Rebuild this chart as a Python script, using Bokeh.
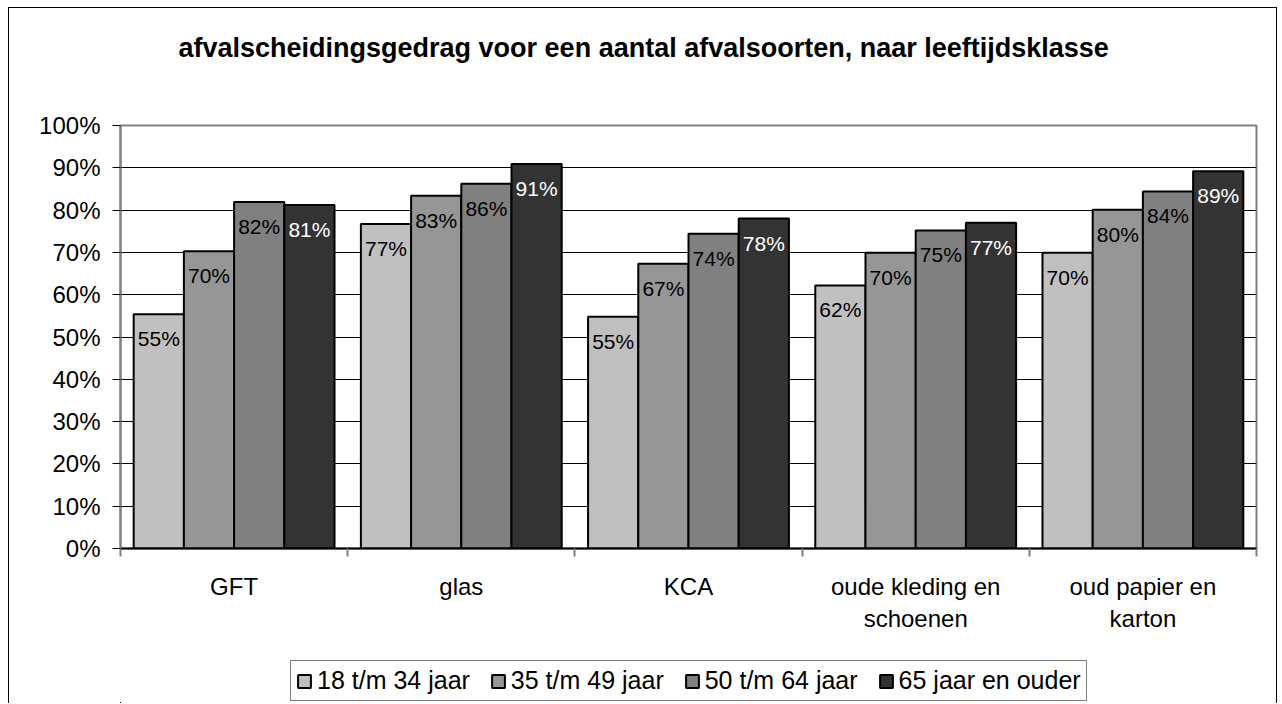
from bokeh.plotting import figure
from bokeh.layouts import column
from bokeh.models import (ColumnDataSource, FixedTicker, NumeralTickFormatter,
                          Legend, LegendItem, Range1d, Title)
from bokeh.transform import dodge
from bokeh.core.properties import value
from bokeh.embed import file_html
from bokeh.resources import INLINE

# ---- data ----
categories = ["GFT", "glas", "KCA", "oude kleding en schoenen", "oud papier en karton"]
category_labels = ["GFT", "glas", "KCA", "oude kleding en\nschoenen", "oud papier en\nkarton"]
series = ["18 t/m 34 jaar", "35 t/m 49 jaar", "50 t/m 64 jaar", "65 jaar en ouder"]
v_18_34 = [55.4, 76.7, 54.8, 62.2, 69.9]
v_35_49 = [70.3, 83.4, 67.3, 69.9, 80.1]
v_50_64 = [81.9, 86.2, 74.4, 75.2, 84.4]
v_65_plus = [81.2, 90.9, 78.0, 77.0, 89.2]
y_ticks = [0, 10, 20, 30, 40, 50, 60, 70, 80, 90, 100]
title_text = "afvalscheidingsgedrag voor een aantal afvalsoorten, naar leeftijdsklasse"

# ---- styles ----
colors = ["#C0C0C0", "#969696", "#808080", "#333333"]
label_colors = ["black", "black", "black", "white"]
FONT = "Liberation Sans"
bar_w = 0.221

p = figure(width=1267, height=644, title=None, x_range=Range1d(0, len(categories)),
           y_range=Range1d(0, 1), output_backend="svg", toolbar_location=None,
           min_border_left=111, min_border_right=20, min_border_top=117,
           min_border_bottom=104)
p.background_fill_color = "white"
p.border_fill_color = "white"
p.outline_line_color = "#808080"
p.outline_line_width = 2

# titles: spacer next to the frame, real title above it
spacer_top = Title(text=" ", text_font=FONT, text_font_size="24px", standoff=11)
p.add_layout(spacer_top, "above")
main_title = Title(text=title_text, align="left", offset=58, standoff=45,
                   text_font=FONT, text_font_size="27px", text_font_style="bold",
                   text_color="black")
p.add_layout(main_title, "above")

# y axis
p.yaxis.ticker = FixedTicker(ticks=[t / 100 for t in y_ticks])
p.yaxis.formatter = NumeralTickFormatter(format="0%")
p.yaxis.major_label_text_font = FONT
p.yaxis.major_label_text_font_size = "24px"
p.yaxis.major_label_text_color = "black"
p.yaxis.axis_line_color = "#808080"
p.yaxis.axis_line_width = 2
p.yaxis.major_tick_line_color = "black"
p.yaxis.major_tick_out = 8
p.yaxis.major_tick_in = 0
p.yaxis.minor_tick_line_color = None
p.yaxis.major_label_standoff = 12

# x axis (labels at category centres, ticks between categories)
centers = [i + 0.5 for i in range(len(categories))]
p.xaxis.ticker = FixedTicker(ticks=centers, minor_ticks=list(range(len(categories) + 1)))
p.xaxis.major_label_overrides = {c: lab for c, lab in zip(centers, category_labels)}
p.xaxis.major_label_text_font = FONT
p.xaxis.major_label_text_font_size = "24px"
p.xaxis.major_label_text_color = "black"
p.xaxis.major_label_text_line_height = 1.22
p.xaxis.major_tick_line_color = None
p.xaxis.major_tick_out = 0
p.xaxis.major_tick_in = 0
p.xaxis.minor_tick_line_color = "#808080"
p.xaxis.minor_tick_line_width = 2
p.xaxis.minor_tick_out = 8
p.xaxis.minor_tick_in = 0
p.xaxis.axis_line_color = "black"
p.xaxis.axis_line_width = 2
p.xaxis.major_label_standoff = 16

p.ygrid.grid_line_color = "black"
p.ygrid.grid_line_width = 1
p.xgrid.grid_line_color = None

all_values = [v_18_34, v_35_49, v_50_64, v_65_plus]
sources = []
for j, (name, vals) in enumerate(zip(series, all_values)):
    src = ColumnDataSource(dict(
        x=centers,
        top=[v / 100 for v in vals],
        label=[f"{round(v)}%" for v in vals],
    ))
    sources.append(src)
    off = (j - 1.5) * bar_w
    p.vbar(x=dodge("x", off), top="top", bottom=0, width=bar_w, source=src,
           fill_color=colors[j], line_color="black", line_width=2)
    p.text(x=dodge("x", off), y="top", text="label", source=src,
           text_align="center", text_baseline="top", y_offset=13,
           text_font=value(FONT), text_font_size="21px", text_color=label_colors[j])

# ---- legend strip (separate figure below the chart, same outer box) ----
# its ranges keep the series' bars out of view; they only provide legend swatches
lf = figure(width=1267, height=51, title=None, x_range=Range1d(100, 101),
            y_range=Range1d(100, 101), output_backend="svg", toolbar_location=None,
            min_border=0, x_axis_location=None, y_axis_location=None)
lf.outline_line_color = None
lf.xgrid.visible = False
lf.ygrid.visible = False
lf.background_fill_color = "white"
lf.border_fill_color = "white"
items = []
for j, name in enumerate(series):
    r = lf.vbar(x="x", top="top", bottom=0, width=bar_w, source=sources[j],
                fill_color=colors[j], line_color="black", line_width=2)
    items.append(LegendItem(label=name, renderers=[r]))

legend = Legend(items=items, orientation="horizontal", location=(170, 2))
legend.label_text_font = FONT
legend.label_text_font_size = "25px"
legend.label_text_color = "black"
legend.glyph_width = 16
legend.glyph_height = 16
legend.label_standoff = 5
legend.spacing = 20
legend.padding = 5
legend.margin = 0
legend.border_line_color = "black"
legend.border_line_width = 1
legend.background_fill_color = "white"
legend.background_fill_alpha = 1
lf.add_layout(legend, "center")

layout = column(p, lf, spacing=0,
                styles={"border": "1px solid black", "border-bottom": "none",
                        "margin-left": "8px", "margin-top": "7px"})

open("out.html", "w").write(file_html(layout, INLINE))
